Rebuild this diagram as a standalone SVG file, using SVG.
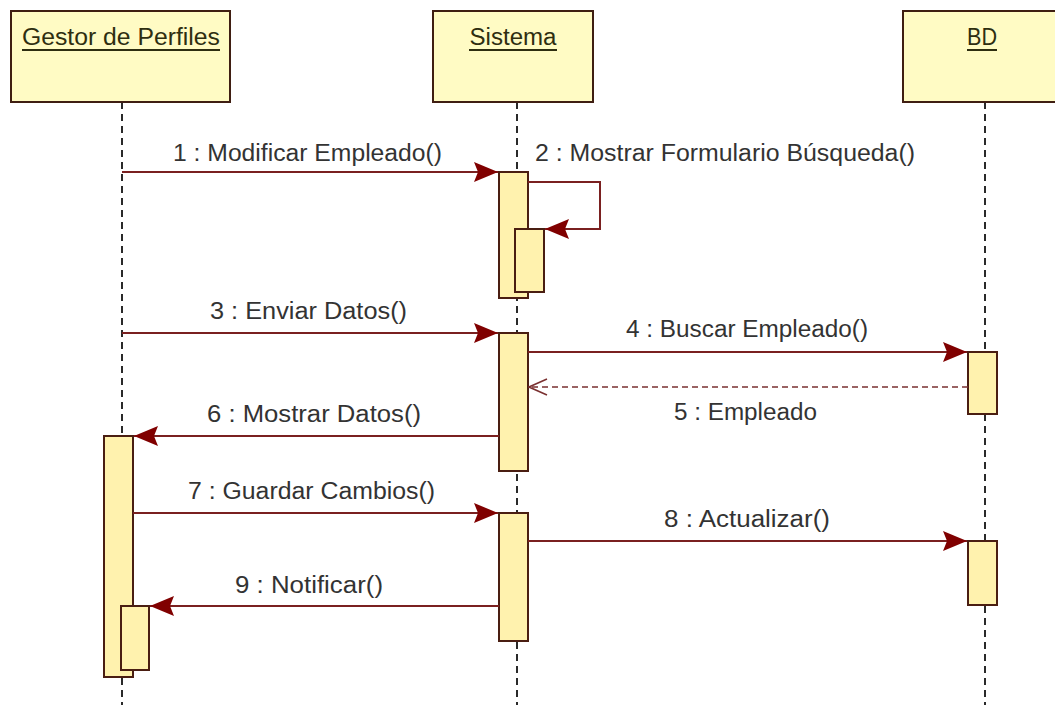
<svg xmlns="http://www.w3.org/2000/svg" width="1055" height="705" viewBox="0 0 1055 705">
<defs>
<style>
.head{fill:#FFFBC4;stroke:#3F1E12;stroke-width:2}
.act{fill:#FFF2AE;stroke:#4A1E12;stroke-width:2}
.life{stroke:#2A2A2A;stroke-width:2;stroke-dasharray:7 5;fill:none}
.msg{stroke:#7A2020;stroke-width:2;fill:none}
.ret{stroke:#7A3030;stroke-width:1.5;fill:none;stroke-dasharray:6 4}
.ttl{font-family:"Liberation Sans",Arial,sans-serif;font-size:23px;fill:#2E2E10;text-anchor:middle}
.lbl{font-family:"Liberation Sans",Arial,sans-serif;font-size:23px;fill:#333333}
.ul{stroke:#2E2E10;stroke-width:2}
</style>
<marker id="fill" viewBox="0 0 24 20" refX="24" refY="10" markerWidth="24" markerHeight="20" markerUnits="userSpaceOnUse" orient="auto">
<path d="M0,0 L24,10 L0,20 L4,10 Z" fill="#800000"/>
</marker>
<marker id="open" viewBox="0 0 20 18" refX="19" refY="9" markerWidth="20" markerHeight="18" markerUnits="userSpaceOnUse" orient="auto">
<path d="M1,1 L19,9 L1,17" fill="none" stroke="#7A3030" stroke-width="1.5"/>
</marker>
</defs>
<rect width="1055" height="705" fill="#ffffff"/>

<g id="lifelines">
<line class="life" x1="122" y1="102" x2="122" y2="705"/>
<line class="life" x1="517" y1="102" x2="517" y2="705"/>
<line class="life" x1="985" y1="102" x2="985" y2="705"/>
</g>

<g id="gestor">
<rect class="head" x="11" y="11" width="219" height="91"/>
<text class="ttl" x="121" y="45" textLength="198" lengthAdjust="spacingAndGlyphs">Gestor de Perfiles</text>
<line class="ul" x1="22" y1="50" x2="220" y2="50"/>
</g>
<g id="sistema">
<rect class="head" x="433" y="11" width="160" height="91"/>
<text class="ttl" x="513" y="45" textLength="87" lengthAdjust="spacingAndGlyphs">Sistema</text>
<line class="ul" x1="469" y1="50" x2="557" y2="50"/>
</g>
<g id="bd">
<rect class="head" x="903" y="11" width="170" height="91"/>
<text class="ttl" x="982" y="45" textLength="30" lengthAdjust="spacingAndGlyphs">BD</text>
<line class="ul" x1="967" y1="50" x2="997" y2="50"/>
</g>

<g id="activations">
<rect class="act" x="499" y="172" width="29" height="126"/>
<rect class="act" x="515" y="229" width="29" height="63"/>
<rect class="act" x="499" y="333" width="29" height="138"/>
<rect class="act" x="968" y="352" width="29" height="62"/>
<rect class="act" x="104" y="436" width="29" height="241"/>
<rect class="act" x="499" y="513" width="29" height="128"/>
<rect class="act" x="968" y="541" width="29" height="64"/>
<rect class="act" x="121" y="606" width="28" height="64"/>
</g>

<g id="connectors">
<line class="msg" x1="122" y1="172" x2="498" y2="172" marker-end="url(#fill)"/>
<polyline class="msg" points="528,182 600,182 600,229 545,229" marker-end="url(#fill)"/>
<line class="msg" x1="122" y1="333" x2="498" y2="333" marker-end="url(#fill)"/>
<line class="msg" x1="528" y1="352" x2="967" y2="352" marker-end="url(#fill)"/>
<line class="ret" x1="968" y1="387" x2="529" y2="387" marker-end="url(#open)"/>
<line class="msg" x1="499" y1="436" x2="134" y2="436" marker-end="url(#fill)"/>
<line class="msg" x1="133" y1="513" x2="498" y2="513" marker-end="url(#fill)"/>
<line class="msg" x1="528" y1="541" x2="967" y2="541" marker-end="url(#fill)"/>
<line class="msg" x1="499" y1="606" x2="150" y2="606" marker-end="url(#fill)"/>
</g>

<g id="labels">
<text class="lbl" x="173" y="161" textLength="269" lengthAdjust="spacingAndGlyphs">1 : Modificar Empleado()</text>
<text class="lbl" x="535" y="161" textLength="380" lengthAdjust="spacingAndGlyphs">2 : Mostrar Formulario Búsqueda()</text>
<text class="lbl" x="210" y="319" textLength="197" lengthAdjust="spacingAndGlyphs">3 : Enviar Datos()</text>
<text class="lbl" x="626" y="337" textLength="242" lengthAdjust="spacingAndGlyphs">4 : Buscar Empleado()</text>
<text class="lbl" x="674" y="420" textLength="143" lengthAdjust="spacingAndGlyphs">5 : Empleado</text>
<text class="lbl" x="207" y="422" textLength="214" lengthAdjust="spacingAndGlyphs">6 : Mostrar Datos()</text>
<text class="lbl" x="188" y="499" textLength="247" lengthAdjust="spacingAndGlyphs">7 : Guardar Cambios()</text>
<text class="lbl" x="664" y="527" textLength="166" lengthAdjust="spacingAndGlyphs">8 : Actualizar()</text>
<text class="lbl" x="235" y="593" textLength="148" lengthAdjust="spacingAndGlyphs">9 : Notificar()</text>
</g>
</svg>
